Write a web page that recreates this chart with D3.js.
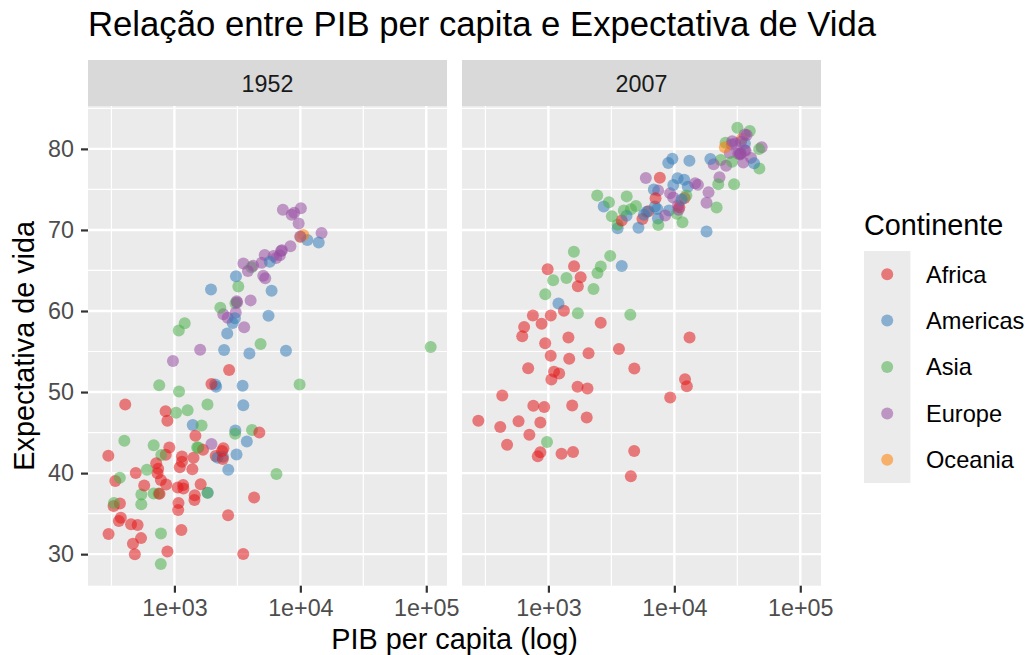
<!DOCTYPE html>
<html>
<head>
<meta charset="utf-8">
<script src="https://cdn.jsdelivr.net/npm/d3@7"></script>
<style>
  body { margin: 0; background: #fff; }
  text { font-family: "Liberation Sans", Arial, sans-serif; }
</style>
</head>
<body>
<svg id="chart" width="1029" height="655"></svg>
<script>
const years = ['1952', '2007'];
const continentNames = ['Africa', 'Americas', 'Asia', 'Europe', 'Oceania'];
const continentColors = ['#E41A1C', '#377EB8', '#4DAF4A', '#984EA3', '#FF7F00'];

const countries = ['Afghanistan','Albania','Algeria','Angola','Argentina','Australia','Austria','Bahrain','Bangladesh','Belgium',
  'Benin','Bolivia','Bosnia and Herzegovina','Botswana','Brazil','Bulgaria','Burkina Faso','Burundi','Cambodia','Cameroon',
  'Canada','Central African Republic','Chad','Chile','China','Colombia','Comoros','Congo, Dem. Rep.','Congo, Rep.','Costa Rica',
  "Cote d'Ivoire",'Croatia','Cuba','Czech Republic','Denmark','Djibouti','Dominican Republic','Ecuador','Egypt','El Salvador',
  'Equatorial Guinea','Eritrea','Ethiopia','Finland','France','Gabon','Gambia','Germany','Ghana','Greece',
  'Guatemala','Guinea','Guinea-Bissau','Haiti','Honduras','Hong Kong','Hungary','Iceland','India','Indonesia',
  'Iran','Iraq','Ireland','Israel','Italy','Jamaica','Japan','Jordan','Kenya','Korea, Dem. Rep.',
  'Korea, Rep.','Kuwait','Lebanon','Lesotho','Liberia','Libya','Madagascar','Malawi','Malaysia','Mali',
  'Mauritania','Mauritius','Mexico','Mongolia','Montenegro','Morocco','Mozambique','Myanmar','Namibia','Nepal',
  'Netherlands','New Zealand','Nicaragua','Niger','Nigeria','Norway','Oman','Pakistan','Panama','Paraguay',
  'Peru','Philippines','Poland','Portugal','Puerto Rico','Reunion','Romania','Rwanda','Sao Tome and Principe','Saudi Arabia',
  'Senegal','Serbia','Sierra Leone','Singapore','Slovak Republic','Slovenia','Somalia','South Africa','Spain','Sri Lanka',
  'Sudan','Swaziland','Sweden','Switzerland','Syria','Taiwan','Tanzania','Thailand','Togo','Trinidad and Tobago',
  'Tunisia','Turkey','Uganda','United Kingdom','United States','Uruguay','Venezuela','Vietnam','West Bank and Gaza','Yemen, Rep.',
  'Zambia','Zimbabwe'];

const continent = ['Asia','Europe','Africa','Africa','Americas','Oceania','Europe','Asia','Asia','Europe',
  'Africa','Americas','Europe','Africa','Americas','Europe','Africa','Africa','Asia','Africa',
  'Americas','Africa','Africa','Americas','Asia','Americas','Africa','Africa','Africa','Americas',
  'Africa','Europe','Americas','Europe','Europe','Africa','Americas','Americas','Africa','Americas',
  'Africa','Africa','Africa','Europe','Europe','Africa','Africa','Europe','Africa','Europe',
  'Americas','Africa','Africa','Americas','Americas','Asia','Europe','Europe','Asia','Asia',
  'Asia','Asia','Europe','Asia','Europe','Americas','Asia','Asia','Africa','Asia',
  'Asia','Asia','Asia','Africa','Africa','Africa','Africa','Africa','Asia','Africa',
  'Africa','Africa','Americas','Asia','Europe','Africa','Africa','Asia','Africa','Asia',
  'Europe','Oceania','Americas','Africa','Africa','Europe','Asia','Asia','Americas','Americas',
  'Americas','Asia','Europe','Europe','Americas','Africa','Europe','Africa','Africa','Asia',
  'Africa','Europe','Africa','Asia','Europe','Europe','Africa','Africa','Europe','Asia',
  'Africa','Africa','Europe','Europe','Asia','Asia','Africa','Asia','Africa','Americas',
  'Africa','Europe','Africa','Europe','Americas','Americas','Americas','Asia','Asia','Asia',
  'Africa','Africa'];

const gdp1952 = [779.4,1601.1,2449.0,3520.6,5911.3,10039.6,6137.1,9867.1,684.2,8343.1,
  1062.8,2677.3,973.5,851.2,2108.9,2444.3,543.3,339.3,368.5,1172.7,
  11367.2,1071.3,1178.7,3940.0,400.4,2144.1,1103.0,780.5,2125.6,2627.0,
  1388.6,3119.2,5586.5,6876.1,9692.4,2669.5,1397.7,3522.1,1418.8,3048.3,
  375.6,328.9,362.1,6424.5,7029.8,4293.5,485.2,7144.1,911.3,3530.7,
  2428.2,510.2,299.9,1840.4,2194.9,3054.4,5263.7,7267.7,546.6,749.7,
  3035.3,4129.8,5210.3,4086.5,4931.4,2898.5,3217.0,1546.9,853.5,1088.3,
  1030.6,108382.4,4834.8,298.8,575.6,2387.5,1443.0,369.2,1831.1,452.3,
  743.1,1968.0,3478.1,786.6,2647.6,1688.2,468.5,331.0,2423.8,545.9,
  8941.6,10556.6,3112.4,761.9,1077.3,10095.4,1828.2,684.6,2480.4,1952.3,
  3758.5,1272.9,4029.3,3068.3,3082.0,2718.9,3144.6,493.3,879.6,6459.6,
  1450.4,3581.5,879.8,2315.1,5074.7,4215.0,1135.7,4725.3,3834.0,1083.5,
  1616.0,1148.4,8527.8,14734.2,1643.5,1206.9,716.7,757.8,859.8,3023.3,
  1468.5,1969.1,734.8,9979.5,13990.5,5716.8,7689.8,605.1,1515.6,781.7,
  1147.4,406.9];

const life1952 = [28.80,55.23,43.08,30.02,62.49,69.12,66.80,50.94,37.48,68.00,
  38.22,40.41,53.82,47.62,50.92,59.60,31.98,39.03,39.42,38.52,
  68.75,35.46,38.09,54.75,44.00,50.64,40.72,39.14,42.11,57.21,
  40.48,61.21,59.42,66.87,70.78,34.81,45.93,48.36,41.89,45.26,
  34.48,35.93,34.08,66.55,67.41,37.00,30.00,67.50,43.15,65.86,
  42.02,33.61,32.50,37.58,41.91,60.96,64.03,72.49,37.37,37.47,
  44.87,45.32,66.91,65.39,65.94,58.53,63.03,43.16,42.27,50.06,
  47.45,55.57,55.93,42.14,38.48,42.72,36.68,36.26,48.46,33.69,
  40.54,50.99,50.79,42.24,59.16,42.87,31.29,36.32,41.73,36.16,
  72.13,69.39,42.31,37.44,36.32,72.67,37.58,43.44,55.19,62.65,
  43.90,47.75,61.31,59.82,64.28,52.72,61.05,40.00,46.47,39.88,
  37.28,58.00,30.33,60.40,64.36,65.57,32.98,45.01,64.94,57.59,
  38.64,41.41,71.86,69.62,45.88,58.50,41.22,50.85,38.60,59.10,
  44.60,43.59,39.98,69.18,68.44,66.07,55.09,40.41,43.16,32.55,
  42.04,48.45];

const gdp2007 = [974.6,5937.0,6223.4,4797.2,12779.4,34435.4,36126.5,29796.0,1391.3,33692.6,
  1441.3,3822.1,7446.3,12569.9,9065.8,10680.8,1217.0,430.1,1713.8,2042.1,
  36319.2,706.0,1704.1,13171.6,4959.1,7006.6,986.1,277.6,3632.6,9645.1,
  1544.8,14619.2,8948.1,22833.3,35278.4,2082.5,6025.4,6873.3,5581.2,5728.4,
  12154.1,641.4,690.8,33207.1,30470.0,13206.5,752.7,32170.4,1327.6,27538.4,
  5186.1,942.7,579.2,1201.6,3548.3,39725.0,18008.9,36180.8,2452.2,3540.7,
  11605.7,4471.1,40676.0,25523.3,28569.7,7320.9,31656.1,4519.5,1463.2,1593.1,
  23348.1,47307.0,10461.1,1569.3,414.5,12057.5,1044.8,759.3,12451.7,1042.6,
  1803.2,10957.0,11977.6,3095.8,9253.9,3820.2,823.7,944.0,4811.1,1091.4,
  36797.9,25185.0,2749.3,619.7,2014.0,49357.2,22316.2,2605.9,9809.2,4172.8,
  7408.9,3190.5,15389.9,20509.6,19328.7,7670.1,10808.5,863.1,1598.4,21654.8,
  1712.5,9786.5,862.5,47143.2,18678.3,25768.3,926.1,9269.7,28821.1,3970.1,
  2602.4,4513.5,33859.7,37506.4,4184.5,28718.3,1107.5,7458.4,883.0,18008.5,
  7092.9,8458.3,1056.4,33203.3,42951.7,10611.5,11415.8,2441.6,3025.3,2280.8,
  1271.2,469.7];

const life2007 = [43.83,76.42,72.30,42.73,75.32,81.24,79.83,75.64,64.06,79.44,
  56.73,65.55,74.85,50.73,72.39,73.01,52.30,49.58,59.72,50.43,
  80.65,44.74,50.65,78.55,72.96,72.89,65.15,46.46,55.32,78.78,
  48.33,75.75,78.27,76.49,78.33,54.79,72.24,74.99,71.34,71.88,
  51.58,58.04,52.95,79.31,80.66,56.74,59.45,79.41,60.02,79.48,
  70.26,56.01,46.39,60.92,70.20,82.21,73.34,81.76,64.70,70.65,
  70.96,59.55,78.89,80.75,80.55,72.57,82.60,72.54,54.11,67.30,
  78.62,77.59,71.99,42.59,45.68,73.95,59.44,48.30,74.24,54.47,
  64.16,72.80,76.20,66.80,74.54,71.16,42.08,62.07,52.91,63.79,
  79.76,80.20,72.90,56.87,46.86,80.20,75.64,65.48,75.54,71.75,
  71.42,71.69,75.56,78.10,78.75,76.44,72.48,46.24,65.53,72.78,
  63.06,74.00,42.57,79.97,74.66,77.93,48.16,49.34,80.94,72.40,
  58.56,39.61,80.88,81.70,74.14,78.40,52.52,70.62,58.42,69.82,
  73.92,71.78,51.54,79.43,78.24,76.38,73.75,74.25,73.42,62.70,
  42.38,43.49];

const xTicks = [1e3, 1e4, 1e5];
const xTickLabels = ['1e+03', '1e+04', '1e+05'];
const yTicks = [30, 40, 50, 60, 70, 80];

const chartTitle = 'Relação entre PIB per capita e Expectativa de Vida';
const xTitle = 'PIB per capita (log)';
const yTitle = 'Expectativa de vida';
const legendTitle = 'Continente';

// layout
const panelTop = 106, panelBottom = 585.7;
const stripTop = 60;
const panels = [{ x0: 88, x1: 447 }, { x0: 462, x1: 821 }];
const panelW = panels[0].x1 - panels[0].x0;
const panelH = panelBottom - panelTop;

const svg = d3.select('#chart');
const colour = d3.scaleOrdinal().domain(continentNames).range(continentColors);

// shared scales (ggplot: 5% expansion of the data range)
const allGdp = gdp1952.concat(gdp2007);
const allLife = life1952.concat(life2007);
const lg = d3.extent(allGdp).map(Math.log10);
const lgPad = (lg[1] - lg[0]) * 0.05;
const x = d3.scaleLog()
  .domain([Math.pow(10, lg[0] - lgPad), Math.pow(10, lg[1] + lgPad)])
  .range([0, panelW]);
const le = d3.extent(allLife);
const lePad = (le[1] - le[0]) * 0.05;
const y = d3.scaleLinear().domain([le[0] - lePad, le[1] + lePad]).range([panelH, 0]);

const xMinor = [2.5, 3.5, 4.5].map(p => Math.pow(10, p))
  .filter(v => v > x.domain()[0] && v < x.domain()[1]);
const yMinor = [25, 35, 45, 55, 65, 75, 85]
  .filter(v => v > y.domain()[0] && v < y.domain()[1]);

const seriesByYear = [
  { gdp: gdp1952, life: life1952 },
  { gdp: gdp2007, life: life2007 }
];

panels.forEach((p, i) => {
  const g = svg.append('g').attr('transform', `translate(${p.x0},${panelTop})`);

  g.append('rect').attr('width', panelW).attr('height', panelH).attr('fill', '#EBEBEB');

  g.selectAll('.xminor').data(xMinor).join('line')
    .attr('x1', d => x(d)).attr('x2', d => x(d)).attr('y1', 0).attr('y2', panelH)
    .attr('stroke', '#fff').attr('stroke-width', 1.2);
  g.selectAll('.yminor').data(yMinor).join('line')
    .attr('x1', 0).attr('x2', panelW).attr('y1', d => y(d)).attr('y2', d => y(d))
    .attr('stroke', '#fff').attr('stroke-width', 1.2);
  g.selectAll('.xmajor').data(xTicks).join('line')
    .attr('x1', d => x(d)).attr('x2', d => x(d)).attr('y1', 0).attr('y2', panelH)
    .attr('stroke', '#fff').attr('stroke-width', 2.4);
  g.selectAll('.ymajor').data(yTicks).join('line')
    .attr('x1', 0).attr('x2', panelW).attr('y1', d => y(d)).attr('y2', d => y(d))
    .attr('stroke', '#fff').attr('stroke-width', 2.4);

  const s = seriesByYear[i];
  g.selectAll('circle').data(countries.map((c, k) => k)).join('circle')
    .attr('cx', k => x(s.gdp[k]))
    .attr('cy', k => y(s.life[k]))
    .attr('r', 6)
    .attr('fill', k => colour(continent[k]))
    .attr('fill-opacity', 0.55);

  // strip
  svg.append('rect')
    .attr('x', p.x0).attr('y', stripTop).attr('width', panelW).attr('height', panelTop - stripTop)
    .attr('fill', '#D9D9D9');
  svg.append('text')
    .attr('x', p.x0 + panelW / 2).attr('y', 92)
    .attr('text-anchor', 'middle').attr('font-size', 23.3).attr('fill', '#1A1A1A')
    .text(years[i]);

  // x axis
  const xa = svg.append('g').attr('transform', `translate(${p.x0},${panelBottom})`)
    .call(d3.axisBottom(x).tickValues(xTicks).tickFormat((d, j) => xTickLabels[j])
      .tickSize(7).tickPadding(7));
  xa.select('.domain').remove();
  xa.selectAll('line').attr('stroke', '#333333').attr('stroke-width', 2.2);
  xa.selectAll('text').attr('font-size', 23.3).attr('fill', '#4D4D4D')
    .attr('font-family', '"Liberation Sans", Arial, sans-serif');
});

// y axis (left panel only)
const ya = svg.append('g').attr('transform', `translate(${panels[0].x0},${panelTop})`)
  .call(d3.axisLeft(y).tickValues(yTicks).tickSize(7).tickPadding(7));
ya.select('.domain').remove();
ya.selectAll('line').attr('stroke', '#333333').attr('stroke-width', 2.2);
ya.selectAll('text').attr('font-size', 23.3).attr('fill', '#4D4D4D')
  .attr('font-family', '"Liberation Sans", Arial, sans-serif');

// titles
svg.append('text').attr('x', 88).attr('y', 36).attr('font-size', 34.7).attr('fill', '#000')
  .text(chartTitle);
svg.append('text').attr('x', (panels[0].x0 + panels[1].x1) / 2).attr('y', 649)
  .attr('text-anchor', 'middle').attr('font-size', 28.8).attr('fill', '#000')
  .text(xTitle);
svg.append('text')
  .attr('transform', `translate(34,${panelTop + panelH / 2}) rotate(-90)`)
  .attr('text-anchor', 'middle').attr('font-size', 28.8).attr('fill', '#000')
  .text(yTitle);

// legend
const legX = 864, legY = 251, keySize = 46.4;
svg.append('text').attr('x', legX).attr('y', 234.5).attr('font-size', 28.8).attr('fill', '#000')
  .text(legendTitle);
const leg = svg.append('g').attr('transform', `translate(${legX},${legY})`);
leg.append('rect').attr('width', keySize).attr('height', keySize * continentNames.length)
  .attr('fill', '#EBEBEB');
const items = leg.selectAll('g.item').data(continentNames).join('g')
  .attr('transform', (d, i) => `translate(0,${i * keySize})`);
items.append('circle').attr('cx', keySize / 2).attr('cy', keySize / 2).attr('r', 6)
  .attr('fill', d => colour(d)).attr('fill-opacity', 0.55);
items.append('text').attr('x', 62).attr('y', keySize / 2).attr('dy', '0.36em')
  .attr('font-size', 23.6).attr('fill', '#000').text(d => d);
</script>
</body>
</html>
